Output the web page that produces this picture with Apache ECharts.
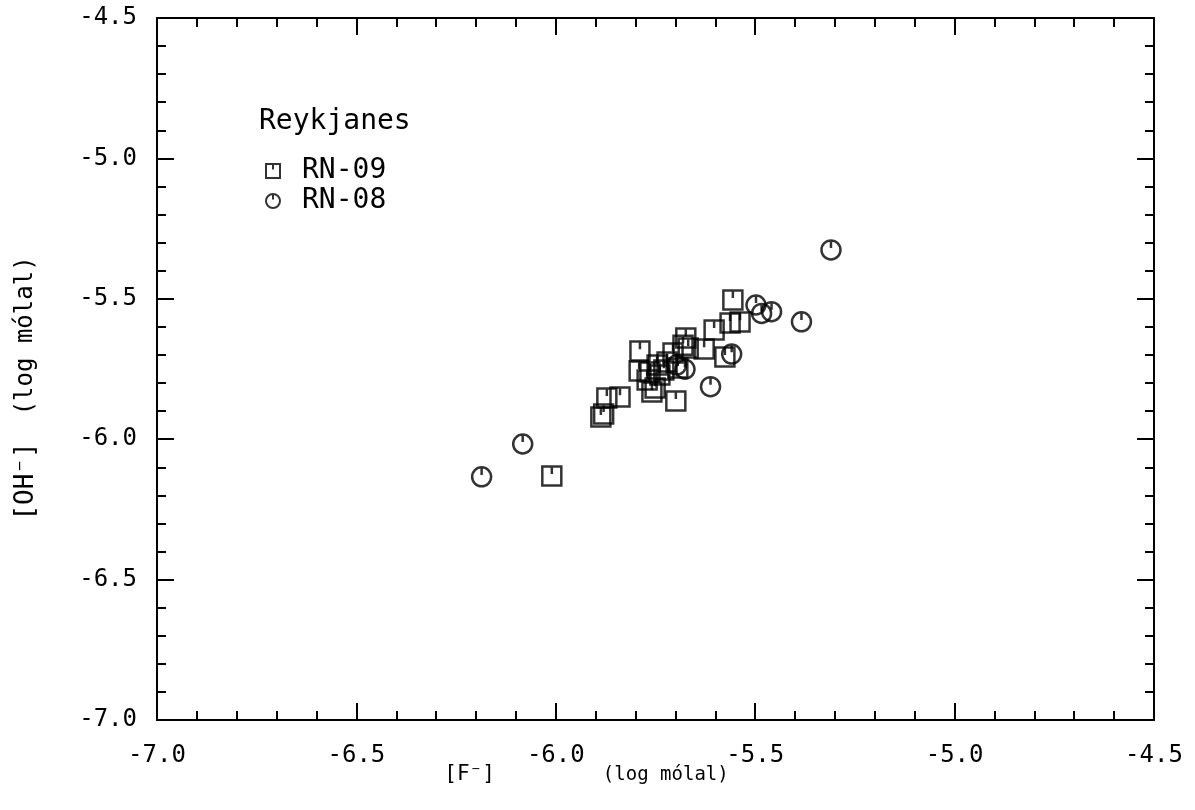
<!DOCTYPE html>
<html>
<head>
<meta charset="utf-8">
<title>Reykjanes — [OH⁻] vs [F⁻]</title>
<script src="https://cdn.jsdelivr.net/npm/echarts@6/dist/echarts.min.js"></script>
<style>
  html, body { margin: 0; padding: 0; background: #fff; }
  #chart { width: 1195px; height: 810px; }
</style>
</head>
<body>
<div id="chart"></div>
<script>
// Well RN-09: [F-] and [OH-] pairs, log molal
const rn09F  = [-6.010, -5.887, -5.880, -5.872, -5.839, -5.789, -5.791, -5.771, -5.759, -5.751,
                -5.699, -5.764, -5.746, -5.739, -5.729, -5.721, -5.706, -5.694, -5.681, -5.674,
                -5.668, -5.628, -5.603, -5.576, -5.563, -5.538, -5.556];
const rn09OH = [-6.131, -5.921, -5.910, -5.853, -5.850, -5.686, -5.757, -5.789, -5.832, -5.818,
                -5.864, -5.761, -5.736, -5.771, -5.754, -5.725, -5.693, -5.746, -5.665, -5.640,
                -5.675, -5.679, -5.611, -5.707, -5.586, -5.583, -5.504];

// Well RN-08
const rn08F  = [-6.186, -6.083, -5.612, -5.559, -5.498, -5.484, -5.459, -5.384, -5.310, -5.697, -5.676];
const rn08OH = [-6.134, -6.017, -5.813, -5.697, -5.522, -5.552, -5.546, -5.582, -5.326, -5.736, -5.751];

const axisMin = -7.0;
const axisMax = -4.5;
const axisStep = 0.5;

const groupTitle = 'Reykjanes';
const seriesNames = ['RN-09', 'RN-08'];

const FONT = '"DejaVu Sans Mono", "Liberation Mono", monospace';

// plotter-style markers: open square / open circle with a short stroke from the top
const squareMark = 'path://M0,0L20,0L20,20L0,20Z M10,0L10,8';
const circleMark = 'path://M10,0C15.5,0 20,4.5 20,10C20,15.5 15.5,20 10,20C4.5,20 0,15.5 0,10C0,4.5 4.5,0 10,0Z M10,0L10,8';

const pairs = (xs, ys) => xs.map((x, i) => [x, ys[i]]);

const fmt = v => v.toFixed(1);

const baseAxis = {
  min: axisMin,
  max: axisMax,
  interval: axisStep,
  axisLine: { show: true, onZero: false, lineStyle: { color: '#000', width: 2 } },
  axisTick: { show: true, inside: true, length: 17, lineStyle: { color: '#000', width: 2 } },
  minorTick: { show: true, splitNumber: 5, length: 9, lineStyle: { color: '#000', width: 2 } },
  splitLine: { show: false },
  minorSplitLine: { show: false }
};

const markStyle = { color: 'rgba(0,0,0,0)', borderColor: '#000', borderWidth: 2.5 };

const option = {
  backgroundColor: '#fff',
  animation: false,
  grid: { left: 157, right: 41, top: 18, bottom: 90 },
  title: {
    text: groupTitle,
    left: 254,
    top: 103,
    textStyle: { fontFamily: FONT, fontSize: 28, fontWeight: 'normal', color: '#000' }
  },
  legend: {
    orient: 'vertical',
    left: 260,
    top: 152,
    itemWidth: 14,
    itemHeight: 14,
    itemGap: 2,
    data: [
      { name: seriesNames[0], icon: squareMark },
      { name: seriesNames[1], icon: circleMark }
    ],
    itemStyle: { color: 'rgba(0,0,0,0)', borderColor: '#000', borderWidth: 2 },
    textStyle: { fontFamily: FONT, fontSize: 28, lineHeight: 28, color: '#000', padding: [0, 0, 0, 17] }
  },
  xAxis: [
    Object.assign({}, baseAxis, {
      type: 'value',
      position: 'bottom',
      name: '{a|[F⁻]}{b|(log mólal)}',
      nameLocation: 'middle',
      nameMoveOverlap: false,
      nameGap: 44,
      nameTextStyle: {
        padding: [0, 138, 0, 0],
        rich: {
          a: { fontFamily: FONT, fontSize: 21, color: '#000' },
          b: { fontFamily: FONT, fontSize: 19, color: '#000', padding: [2, 0, 0, 108] }
        }
      },
      axisLabel: { show: true, margin: 24, fontFamily: FONT, fontSize: 24, color: '#000', formatter: fmt }
    }),
    Object.assign({}, baseAxis, {
      type: 'value',
      position: 'top',
      axisLabel: { show: false }
    })
  ],
  yAxis: [
    Object.assign({}, baseAxis, {
      type: 'value',
      position: 'left',
      name: '{a|[OH⁻]}{b|(log mólal)}',
      nameLocation: 'middle',
      nameMoveOverlap: false,
      nameGap: 118,
      nameTextStyle: {
        padding: [0, 39, 0, 0],
        rich: {
          a: { fontFamily: FONT, fontSize: 26, color: '#000' },
          b: { fontFamily: FONT, fontSize: 24, color: '#000', padding: [0, 0, 0, 27] }
        }
      },
      axisLabel: { show: true, margin: 20, fontFamily: FONT, fontSize: 24, color: '#000', formatter: fmt }
    }),
    Object.assign({}, baseAxis, {
      type: 'value',
      position: 'right',
      axisLabel: { show: false }
    })
  ],
  series: [
    {
      name: seriesNames[0],
      type: 'scatter',
      symbol: squareMark,
      symbolSize: 19,
      data: pairs(rn09F, rn09OH),
      itemStyle: markStyle
    },
    {
      name: seriesNames[1],
      type: 'scatter',
      symbol: circleMark,
      symbolSize: 19,
      data: pairs(rn08F, rn08OH),
      itemStyle: markStyle
    }
  ]
};

const chart = echarts.init(document.getElementById('chart'), null, { renderer: 'canvas' });
chart.setOption(option);
</script>
</body>
</html>
